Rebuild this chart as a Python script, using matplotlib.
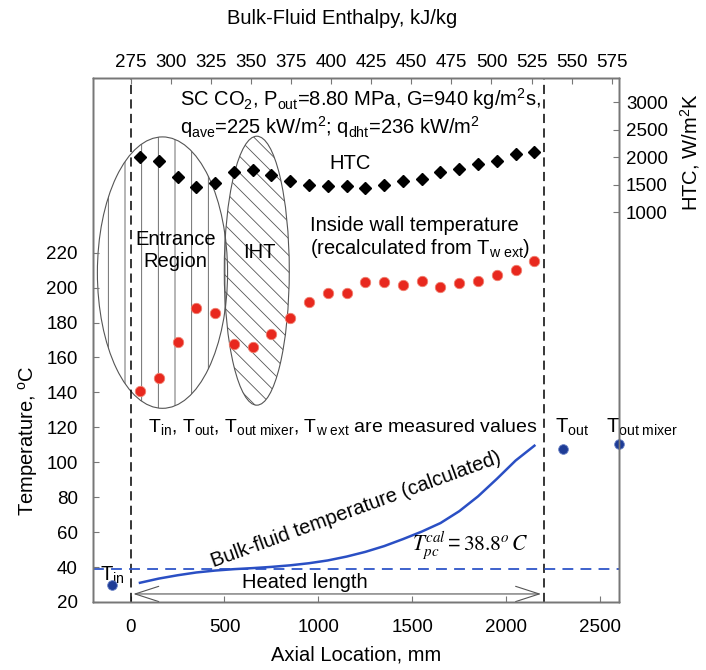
import numpy as np
import matplotlib.pyplot as plt
from matplotlib.patches import Ellipse, FancyArrowPatch

plt.rcParams['font.family'] = ['Liberation Sans', 'DejaVu Sans']
plt.rcParams['mathtext.fontset'] = 'custom'
plt.rcParams['mathtext.rm'] = 'Liberation Sans'
plt.rcParams['mathtext.it'] = 'Liberation Sans:italic'
plt.rcParams['mathtext.default'] = 'regular'
plt.rcParams['hatch.linewidth'] = 0.6

# axial locations of the thermocouples, mm
x_loc = [50, 150, 250, 350, 450, 550, 650, 750, 850, 950, 1050,
         1150, 1250, 1350, 1450, 1550, 1650, 1750, 1850, 1950, 2050, 2150]

# inside wall temperature, C
t_wall = [141, 148, 169, 188.5, 185.5, 167.5, 166, 173.5, 182.5, 191.5, 196.7,
          197, 203.4, 203.4, 201.5, 204, 200.6, 202.5, 203.6, 207.4, 210.1, 215]

# heat transfer coefficient, W/m2K
htc = [2005, 1933, 1642, 1460, 1522, 1722, 1764, 1673, 1566, 1485, 1467,
       1478, 1442, 1491, 1569, 1595, 1722, 1782, 1867, 1933, 2049, 2096]

# bulk-fluid temperature (calculated)
bulk_x = [50, 150, 250, 350, 450, 550, 650, 750, 850, 950, 1050,
          1150, 1250, 1350, 1450, 1550, 1650, 1750, 1850, 1950, 2050, 2150]
bulk_t = [31, 33.4, 35.3, 36.9, 38.0, 38.8, 39.4, 40.1, 41.0, 42.2, 43.8,
          46.0, 48.7, 52.0, 56.0, 60.3, 65.2, 72.0, 80.5, 90.5, 101.0, 109.5]

# measured inlet / outlet temperatures
meas_x = [-100, 2300, 2600]
meas_t = [30, 107.4, 110.3]

t_pc = 38.8
heated_len = 2200

fig = plt.figure(figsize=(7.06, 6.70), dpi=100)
ax = fig.add_axes([0.1317, 0.1015, 0.745, 0.782])

# ellipses for entrance region and IHT
ell1 = Ellipse((170, 208.6), 693, 155.4, facecolor='none', edgecolor='#555555',
               linewidth=0.8, hatch='|', zorder=1)
ell2 = Ellipse((672, 209.7), 346, 154, facecolor='none', edgecolor='#555555',
               linewidth=0.8, hatch='\\\\', zorder=1)
ax.add_patch(ell1)
ax.add_patch(ell2)

ax.axvline(0, color='black', linewidth=1.1, dashes=(6, 3.5), zorder=2)
ax.axvline(heated_len, color='black', linewidth=1.1, dashes=(6, 3.5), zorder=2)
ax.axhline(t_pc, color='#2e55c8', linewidth=1.3, dashes=(6, 4), zorder=2)

ax.plot(bulk_x, bulk_t, color='#2a4fc4', linewidth=1.8, zorder=3)
ax.plot(x_loc, t_wall, 'o', color='#e8281e', markeredgecolor='#f08070',
        markeredgewidth=0.6, markersize=7.5, zorder=4)
ax.plot(meas_x, meas_t, 'o', color='#1e3c96', markeredgecolor='#6f86c8',
        markeredgewidth=0.6, markersize=7, zorder=4, clip_on=False)

# heated length arrow
arr = FancyArrowPatch((0, 24.6), (heated_len, 24.6),
                      arrowstyle='<->,head_length=1.7,head_width=0.55',
                      mutation_scale=10, color='#555555', linewidth=0.8, zorder=3)
ax.add_patch(arr)

ax.set_xlim(-200, 2600)
ax.set_ylim(20, 320)
ax.set_xticks([0, 500, 1000, 1500, 2000, 2500])
ax.set_yticks(np.arange(20, 221, 20))

# HTC on the right
ax2 = ax.twinx()
ax2.plot(x_loc, htc, 'D', color='black', markersize=6.5, zorder=4)
ax2.set_ylim(-6091, 3436)
ax2.set_yticks([1000, 1500, 2000, 2500, 3000])

# enthalpy on top
ax3 = ax.twiny()
ax3.set_xlim(251.5, 579.5)
ax3.set_xticks(np.arange(275, 576, 25))

for a in [ax, ax2, ax3]:
    for s in a.spines.values():
        s.set_color('#777777')
        s.set_linewidth(1.0)
    a.tick_params(direction='in', length=4, color='#777777', labelsize=13.5)

ax.tick_params(axis='x', pad=12)
ax.tick_params(axis='y', pad=11)
ax2.tick_params(axis='y', pad=5)
ax3.tick_params(axis='x', pad=5)

fs = 14.5
ax.text(261, 308, 'SC CO$_2$, P$_{out}$=8.80 MPa, G=940 kg/m$^2$s,',
        fontsize=fs, ha='left', va='center')
ax.text(261, 292, 'q$_{ave}$=225 kW/m$^2$; q$_{dht}$=236 kW/m$^2$',
        fontsize=fs, ha='left', va='center')
ax.text(1167, 271, 'HTC', fontsize=fs, ha='center', va='center')
ax.text(240, 221, 'Entrance\nRegion', fontsize=fs, ha='center', va='center',
        linespacing=1.2)
ax.text(688, 220, 'IHT', fontsize=fs, ha='center', va='center')
ax.text(954, 228.3, 'Inside wall temperature\n(recalculated from T$_{w\\ ext}$)',
        fontsize=fs, ha='left', va='center', linespacing=1.15)
ax.text(91, 120, 'T$_{in}$, T$_{out}$, T$_{out\\ mixer}$, T$_{w\\ ext}$ are measured values',
        fontsize=14, ha='left', va='center')
ax.text(2260, 120, 'T$_{out}$', fontsize=fs, ha='left', va='center')
ax.text(2532, 120, 'T$_{out\\ mixer}$', fontsize=fs, ha='left', va='center',
        clip_on=False)
ax.text(-165, 35, 'T$_{in}$', fontsize=fs, ha='left', va='center')
ax.text(1199, 72.9, 'Bulk-fluid temperature (calculated)', fontsize=fs,
        ha='center', va='center', rotation=20, rotation_mode='anchor')
ax.text(1807, 52, r'$\mathit{T}_{\mathit{pc}}^{\mathit{cal}} = \mathit{38.8}^{\mathit{o}}\,\mathit{C}$',
        fontsize=15.5, ha='center', va='center', math_fontfamily='stix')
ax.text(928, 31.4, 'Heated length', fontsize=fs, ha='center', va='center')

fig.text(0.04, 0.343, 'Temperature, $^o$C', fontsize=fs, rotation=90,
         ha='center', va='center')
fig.text(0.504, 0.022, 'Axial Location, mm', fontsize=fs, ha='center', va='center')
fig.text(0.484, 0.973, 'Bulk-Fluid Enthalpy, kJ/kg', fontsize=fs,
         ha='center', va='center')
fig.text(0.977, 0.773, 'HTC, W/m$^2$K', fontsize=fs, rotation=90,
         ha='center', va='center')

plt.savefig('out.png', dpi=100)
